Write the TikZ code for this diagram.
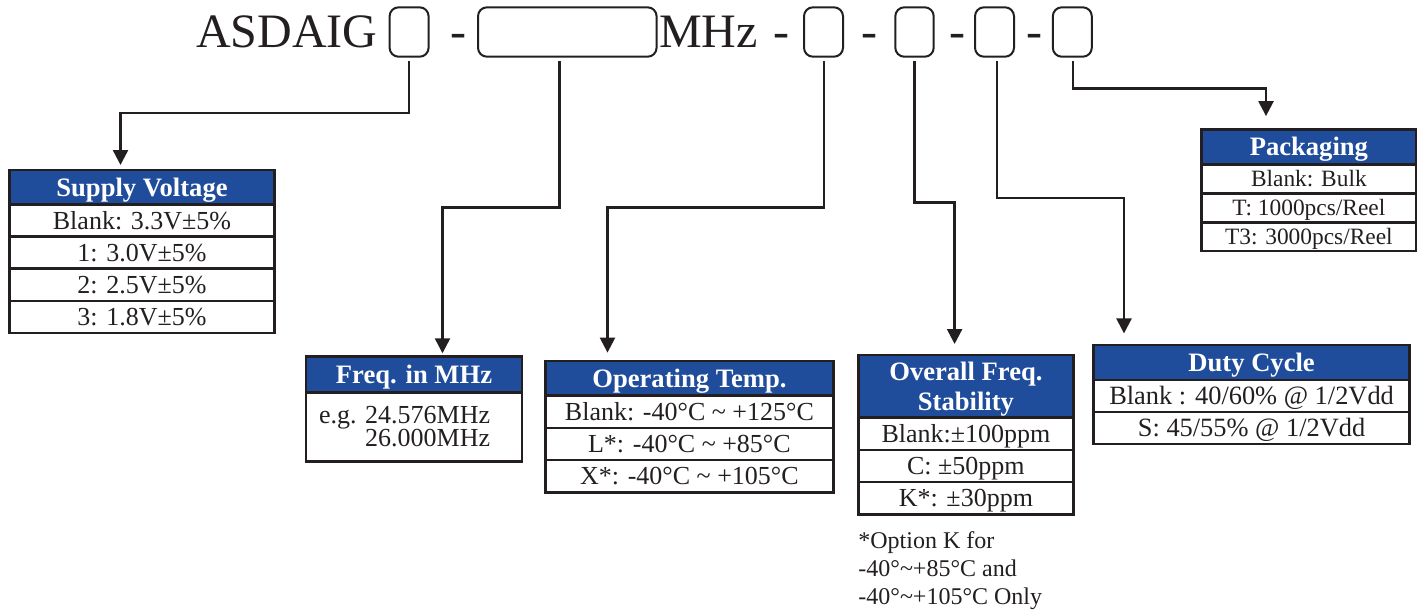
\documentclass[tikz,border=0pt]{standalone}
\usepackage{fontspec}
\setmainfont{Liberation Serif}
\usetikzlibrary{arrows.meta}
\definecolor{hblue}{RGB}{31,76,155}
\definecolor{ink}{RGB}{35,31,32}
\newcommand{\tld}{\textasciitilde}
\begin{document}
\begin{tikzpicture}[x=0.5pt,y=-0.5pt,
  big/.style={inner sep=0pt, outer sep=0pt, text=ink, font=\fontsize{24}{28}\selectfont},
  code/.style={draw=ink, line width=1pt, rounded corners=4.5pt, minimum height=24.7pt, inner sep=0pt, outer sep=0pt},
  conn/.style={draw=ink, line width=1.2pt, -{Triangle[width=7.5pt,length=7.5pt]}, shorten <=2.1pt},
  hdr/.style={draw=ink, fill=hblue, text=white, line width=1.3pt, font=\bfseries\fontsize{13.3}{15.35}\selectfont,
     inner sep=0pt, outer sep=0pt, anchor=north west, text height=9.4pt, text depth=0.4pt},
  row/.style={draw=ink, line width=1.3pt, text=ink, font=\fontsize{13}{15}\selectfont,
     inner sep=0pt, outer sep=0pt, anchor=north west, text height=9pt, text depth=0.4pt},
  prow/.style={row, font=\fontsize{11.7}{14}\selectfont, text height=8.1pt},
  txt/.style={inner sep=0pt, outer sep=0pt, text=ink}
]
\useasboundingbox (0,0) rectangle (1418,612);

% ---- part number line ----
\node[big, anchor=base west] (pn) at (196,47) {ASDAIG};
\node[code, minimum width=19.5pt] (b1) at (409.1,32) {};
\node[big, anchor=base] (h1) at (458,47) {-};
\node[code, minimum width=89.3pt] (b2) at (567.3,32) {};
\node[big, anchor=base west] (mhz) at (659,47) {MHz};
\node[big, anchor=base] (h2) at (781,47) {-};
\node[code, minimum width=19.5pt] (b3) at (823.5,32) {};
\node[big, anchor=base] (h3) at (869,47) {-};
\node[code, minimum width=19.2pt] (b4) at (914.5,32) {};
\node[big, anchor=base] (h4) at (957,47) {-};
\node[code, minimum width=19.5pt] (b5) at (994.5,32) {};
\node[big, anchor=base] (h5) at (1034,47) {-};
\node[code, minimum width=19.5pt] (b6) at (1072.3,32) {};

% ---- Supply Voltage ----
\node[hdr, minimum width=132.5pt, minimum height=17.15pt] (sv) at (9.5,170) {Supply Voltage};
\node[row, minimum width=132.5pt, minimum height=16.1pt] (sv1) at (sv.south west) {Blank: 3.3V±5\%};
\node[row, minimum width=132.5pt, minimum height=16.1pt] (sv2) at (sv1.south west) {1: 3.0V±5\%};
\node[row, minimum width=132.5pt, minimum height=16.1pt] (sv3) at (sv2.south west) {2: 2.5V±5\%};
\node[row, minimum width=132.5pt, minimum height=16.1pt] (sv4) at (sv3.south west) {3: 1.8V±5\%};

% ---- Freq. in MHz ----
\node[hdr, minimum width=108pt, minimum height=17.8pt] (fq) at (306,356.7) {Freq. in MHz};
\node[row, minimum width=108pt, minimum height=34.7pt] (fq1) at (fq.south west) {};
\node[txt, anchor=base west, align=right, font=\fontsize{13}{11.5}\selectfont] (fqt) at (319,446) {e.g. 24.576MHz\\26.000MHz};

% ---- Operating Temp. ----
\node[hdr, minimum width=144pt, minimum height=17.35pt] (ot) at (545.4,361) {Operating Temp.};
\node[row, minimum width=144pt, minimum height=16.1pt] (ot1) at (ot.south west) {Blank: -40°C \tld{} +125°C};
\node[row, minimum width=144pt, minimum height=16.1pt] (ot2) at (ot1.south west) {L*: -40°C \tld{} +85°C};
\node[row, minimum width=144pt, minimum height=16.1pt] (ot3) at (ot2.south west) {X*: -40°C \tld{} +105°C};

% ---- Overall Freq. Stability ----
\node[hdr, minimum width=107.5pt, minimum height=31.35pt, align=center, text height=24.75pt, text depth=0.4pt] (st) at (858.4,355) {Overall Freq.\\Stability};
\node[row, minimum width=107.5pt, minimum height=16.1pt] (st1) at (st.south west) {Blank:±100ppm};
\node[row, minimum width=107.5pt, minimum height=16.1pt] (st2) at (st1.south west) {C: ±50ppm};
\node[row, minimum width=107.5pt, minimum height=16.1pt] (st3) at (st2.south west) {K*: ±30ppm};
\node[txt, anchor=base west, align=left, font=\fontsize{12}{14}\selectfont] (note) at (858.4,604.3)
  {*Option K for\\-40°\tld+85°C and\\-40°\tld+105°C Only};

% ---- Duty Cycle ----
\node[hdr, minimum width=158pt, minimum height=17.5pt] (dc) at (1093.6,345) {Duty Cycle};
\node[row, minimum width=158pt, minimum height=16pt, font=\fontsize{13.2}{15}\selectfont] (dc1) at (dc.south west) {Blank : 40/60\% @ 1/2Vdd};
\node[row, minimum width=158pt, minimum height=16pt, font=\fontsize{13.2}{15}\selectfont] (dc2) at (dc1.south west) {S: 45/55\% @ 1/2Vdd};

% ---- Packaging ----
\node[hdr, minimum width=107.15pt, minimum height=17.5pt] (pk) at (1201.7,129.3) {Packaging};
\node[prow, minimum width=107.15pt, minimum height=14.5pt] (pk1) at (pk.south west) {Blank: Bulk};
\node[prow, minimum width=107.15pt, minimum height=14.5pt] (pk2) at (pk1.south west) {T: 1000pcs/Reel};
\node[prow, minimum width=107.15pt, minimum height=14.35pt] (pk3) at (pk2.south west) {T3: 3000pcs/Reel};

% ---- connectors ----
\coordinate (k1a) at (409.1,113);  \coordinate (k1b) at (120.5,113);
\coordinate (k2a) at (559.5,207.3); \coordinate (k2b) at (442.5,207.3);
\coordinate (k3a) at (824,207.3);  \coordinate (k3b) at (607.5,207.3);
\coordinate (k4a) at (914.5,202.3); \coordinate (k4b) at (954.6,202.3);
\coordinate (k5a) at (997,197.7);  \coordinate (k5b) at (1124,197.7);
\coordinate (k6a) at (1073,88.3);  \coordinate (k6b) at (1266,88.3);

\draw[conn, shorten >=2.5pt] (k1a |- b1.south) -- (k1a) -- (k1b) -- (k1b |- sv.north);
\draw[conn, shorten >=1.7pt] (k2a |- b2.south) -- (k2a) -- (k2b) -- (k2b |- fq.north);
\draw[conn, shorten >=4.2pt] (k3a |- b3.south) -- (k3a) -- (k3b) -- (k3b |- ot.north);
\draw[conn, shorten >=5.5pt] (k4a |- b4.south) -- (k4a) -- (k4b) -- (k4b |- st.north);
\draw[conn, shorten >=5.8pt] (k5a |- b5.south) -- (k5a) -- (k5b) -- (k5b |- dc.north);
\draw[conn, shorten >=6.6pt] (k6a |- b6.south) -- (k6a) -- (k6b) -- (k6b |- pk.north);
\end{tikzpicture}
\end{document}
